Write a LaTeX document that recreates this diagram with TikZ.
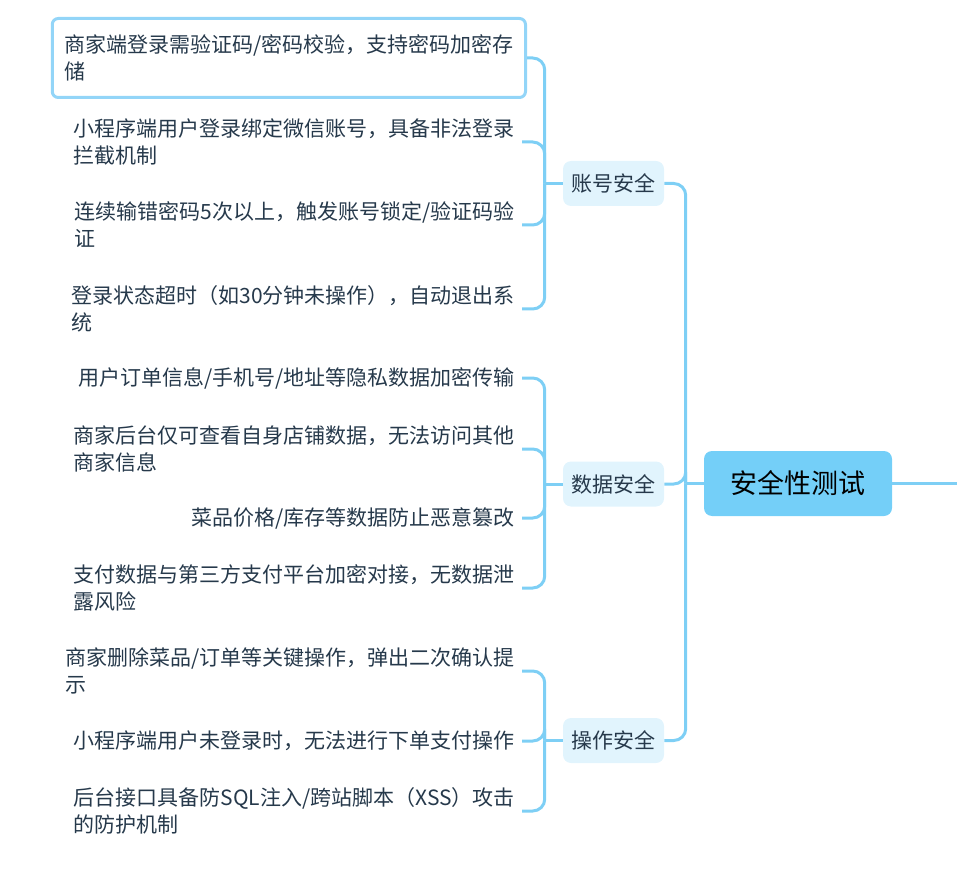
\documentclass[tikz,border=0pt]{standalone}
\usepackage{fontspec}
\setmainfont{Noto Sans CJK SC}
\definecolor{lineblue}{HTML}{7ECFF5}
\definecolor{rootfill}{HTML}{74CFF8}
\definecolor{subfill}{HTML}{E1F4FD}
\definecolor{selstroke}{HTML}{93D5F8}
\definecolor{txt}{HTML}{26394B}
\begin{document}
\begin{tikzpicture}[x=0.75pt,y=-0.75pt,
  conn/.style={draw=lineblue, line width=2.25pt, rounded corners=9pt},
  leaf/.style={anchor=east, align=left, font=\fontsize{15.75pt}{20.25pt}\selectfont, text=txt, inner xsep=5.25pt, inner ysep=0pt},
  subnode/.style={fill=subfill, rounded corners=6pt, font=\fontsize{15.75pt}{18pt}\selectfont, text=txt, minimum width=75.75pt, minimum height=33.75pt, inner sep=0pt},
  rootnode/.style={fill=rootfill, rounded corners=6pt, font=\fontsize{20.25pt}{24pt}\selectfont, text=black, minimum width=141pt, minimum height=48.75pt, inner sep=0pt}]
\useasboundingbox (0,0) rectangle (957,891);

\node[rootnode] (root) at (798,483.5) {安全性测试};
\coordinate (rs) at (957,483.5);

\node[subnode] (zh) at (613.5,183.5) {账号安全};
\node[subnode] (sj) at (613.5,484) {数据安全};
\node[subnode] (cz) at (613.5,740.5) {操作安全};

\node[leaf, draw=selstroke, line width=2.25pt, rounded corners=4.5pt, inner xsep=9pt, minimum height=59.25pt, anchor=east] (zh1) at (527,58) {商家端登录需验证码/密码校验，支持密码加密存\\储};
\node[leaf] (zh2) at (522,142) {小程序端用户登录绑定微信账号，具备非法登录\\拦截机制};
\node[leaf] (zh3) at (522,225) {连续输错密码5次以上，触发账号锁定/验证码验\\证};
\node[leaf] (zh4) at (522,309) {登录状态超时（如30分钟未操作），自动退出系\\统};

\node[leaf] (sj1) at (522,378) {用户订单信息/手机号/地址等隐私数据加密传输};
\node[leaf] (sj2) at (522,449) {商家后台仅可查看自身店铺数据，无法访问其他\\商家信息};
\node[leaf] (sj3) at (522,518) {菜品价格/库存等数据防止恶意篡改};
\node[leaf] (sj4) at (522,588) {支付数据与第三方支付平台加密对接，无数据泄\\露风险};

\node[leaf] (cz1) at (522,671) {商家删除菜品/订单等关键操作，弹出二次确认提\\示};
\node[leaf] (cz2) at (522,741) {小程序端用户未登录时，无法进行下单支付操作};
\node[leaf] (cz3) at (522,811) {后台接口具备防SQL注入/跨站脚本（XSS）攻击\\的防护机制};

\draw[conn] (root.east) -- (rs);
\draw[conn] (root.west) -- ++(-18,0);
\foreach \s in {zh,sj,cz}
  \draw[conn] ([xshift=-13.5pt]root.west) |- (\s.east);

\foreach \p/\l in {zh/zh1,zh/zh2,zh/zh3,zh/zh4,sj/sj1,sj/sj2,sj/sj3,sj/sj4,cz/cz1,cz/cz2,cz/cz3}
  \draw[conn] ([xshift=-13.5pt]\p.west) |- (\l.east);
\foreach \p in {zh,sj,cz}
  \draw[conn] (\p.west) -- ++(-18,0);
\end{tikzpicture}
\end{document}
